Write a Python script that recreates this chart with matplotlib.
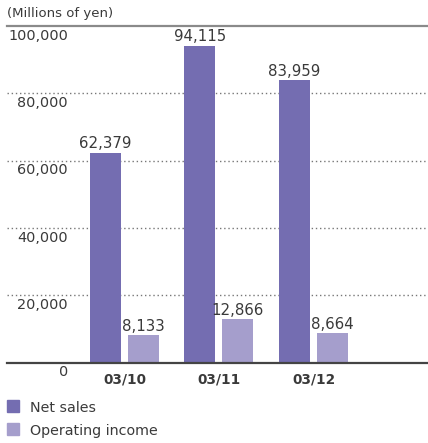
import numpy as np
import matplotlib.pyplot as plt
from matplotlib.patches import Rectangle

plt.rcParams['font.family'] = ['DejaVu Sans']

categorias = ['03/10', '03/11', '03/12']
vendas = [62379, 94115, 83959]
lucro_operacional = [8133, 12866, 8664]
ticks_y = [0, 20000, 40000, 60000, 80000, 100000]

COR_VENDAS = '#746db1'
COR_LUCRO = '#a59ecc'
COR_TEXTO = '#3a3a3a'

W, H = 428, 443
fig = plt.figure(figsize=(W / 100, H / 100), dpi=100)

# eixo: x de 7 a 428 px, y de 362.5 (zero) a 26 (100.000)
ax = fig.add_axes([7 / W, (H - 362.5) / H, 421 / W, 336.5 / H])
ax.set_ylim(0, 100000)
ax.set_xlim(-1.243, 3.212)

x = np.arange(len(categorias))
largura = 0.328
desloc = 0.201

# linhas de grade pontilhadas
for v in ticks_y[1:-1]:
    ax.axhline(v, color='#777777', linestyle=(0, (1, 2)), linewidth=1, zorder=1)
ax.axhline(100000, color='#8a8a8a', linewidth=1.6, zorder=1, clip_on=False)

ax.bar(x - desloc, vendas, largura, color=COR_VENDAS, zorder=2)
ax.bar(x + desloc, lucro_operacional, largura, color=COR_LUCRO, zorder=2)

for xi, v in zip(x - desloc, vendas):
    ax.annotate(f'{v:,}', (xi, v), xytext=(0, 1), textcoords='offset points',
                ha='center', va='bottom', fontsize=10.8, color=COR_TEXTO)
for xi, v in zip(x + desloc, lucro_operacional):
    ax.annotate(f'{v:,}', (xi, v), xytext=(0, 1), textcoords='offset points',
                ha='center', va='bottom', fontsize=10.8, color=COR_TEXTO)

# rótulos do eixo y, abaixo das linhas
for v in ticks_y:
    ax.annotate(f'{v:,}', (0.145, v), xycoords=('axes fraction', 'data'),
                xytext=(0, -2), textcoords='offset points',
                ha='right', va='top', fontsize=10.4, color=COR_TEXTO)

# rótulos das categorias
for xi, c in zip(x, categorias):
    ax.annotate(c, (xi, 0), xytext=(0, -7.5), textcoords='offset points',
                ha='center', va='top', fontsize=9.8, fontweight='bold',
                color=COR_TEXTO)

for s in ['top', 'left', 'right']:
    ax.spines[s].set_visible(False)
ax.spines['bottom'].set_color('#444444')
ax.spines['bottom'].set_linewidth(1.6)
ax.set_xticks([])
ax.set_yticks([])

fig.text(7 / W, 1 - 14 / H, '(Millions of yen)', ha='left', va='center',
         fontsize=9.5, color=COR_TEXTO)

# legenda manual
itens = [('Net sales', COR_VENDAS, 406), ('Operating income', COR_LUCRO, 429)]
for nome, cor, yc in itens:
    fig.patches.append(Rectangle((7 / W, 1 - (yc + 5.5) / H), 11.5 / W, 11.5 / H,
                                 transform=fig.transFigure, color=cor))
    fig.text(30 / W, 1 - (yc + 1.5) / H, nome, ha='left', va='center',
             fontsize=10.3, color=COR_TEXTO)

plt.savefig('out.png', dpi=100)
